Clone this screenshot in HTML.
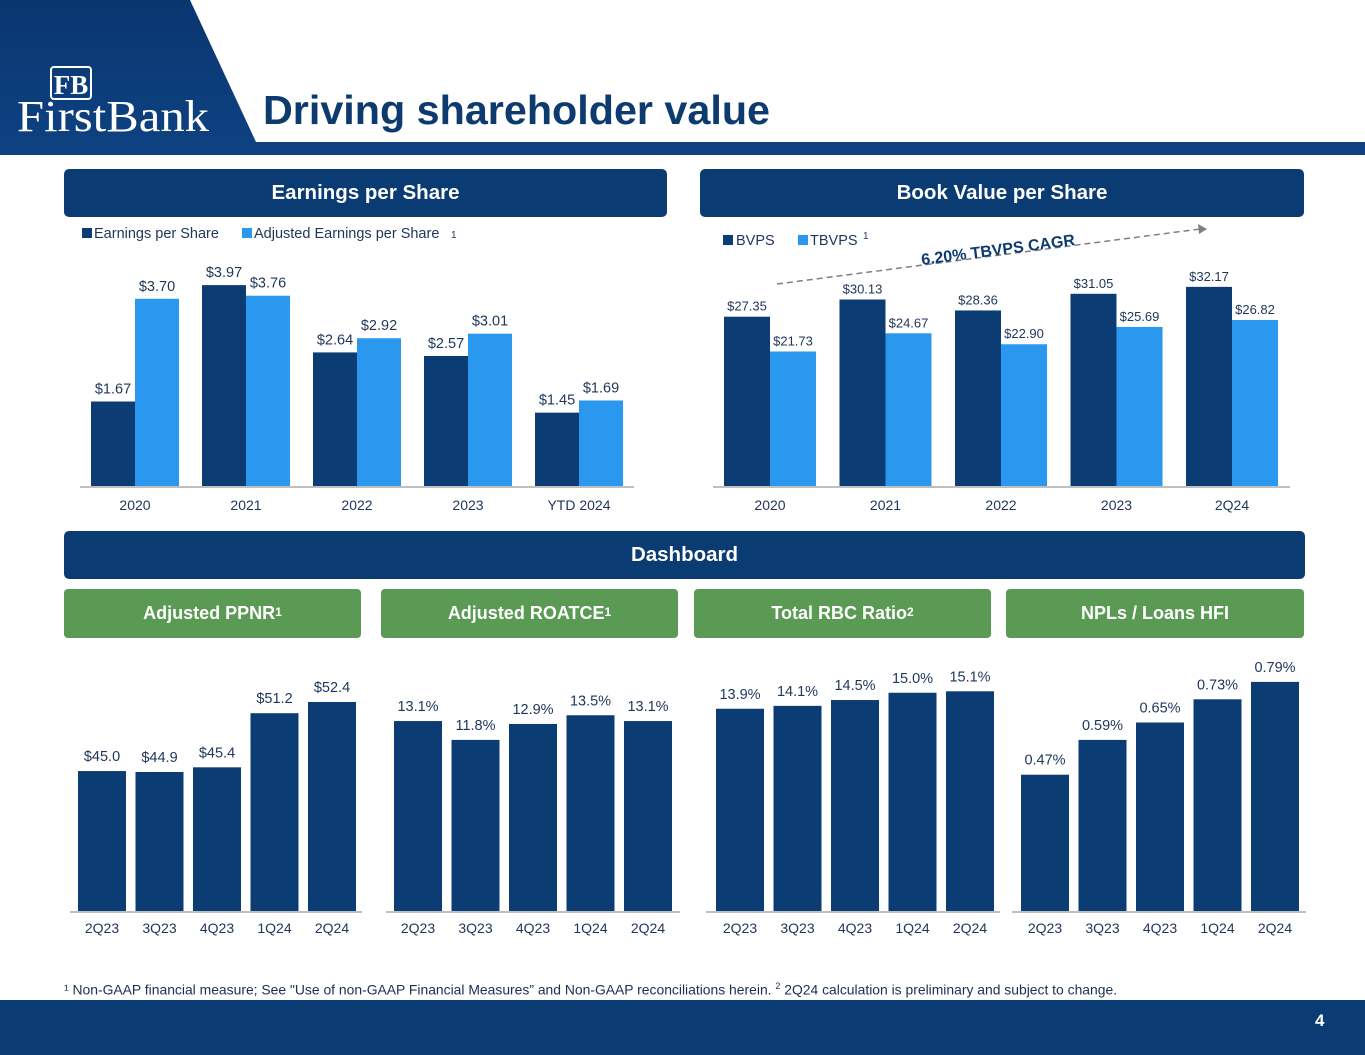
<!DOCTYPE html>
<html><head><meta charset="utf-8"><style>
body{margin:0;width:1365px;height:1055px;position:relative;background:#fff;font-family:"Liberation Sans",sans-serif;overflow:hidden}
.abs{position:absolute}
.hdr{position:absolute;background:#0b3b73;color:#fff;font-weight:bold;font-size:20.5px;display:flex;align-items:center;justify-content:center;border-radius:5px}
.grn{position:absolute;background:#5a9a55;color:#fff;font-weight:bold;font-size:18px;display:flex;align-items:center;justify-content:center;border-radius:4px}
.grn sup{font-size:12px;position:relative;top:-2px}
</style></head><body>
<svg class="abs" style="left:0;top:0" width="1365" height="156">
<defs><linearGradient id="g" x1="0" y1="0" x2="0" y2="1"><stop offset="0" stop-color="#0a3670"/><stop offset="1" stop-color="#0e4282"/></linearGradient></defs>
<polygon points="0,0 190,0 256,142 1365,142 1365,155 0,155" fill="url(#g)"/>
<rect x="51" y="67" width="40" height="32" rx="3" fill="none" stroke="#fff" stroke-width="2"/>
<text x="71" y="94" style="font-family:'Liberation Serif',serif" font-size="27" fill="#fff" text-anchor="middle" font-weight="bold">FB</text>
<text x="17" y="131" style="font-family:'Liberation Serif',serif" font-size="44" fill="#fff" textLength="192" lengthAdjust="spacingAndGlyphs">FirstBank</text>
<text x="263" y="124" style="font-family:'Liberation Sans',sans-serif" font-size="41" font-weight="bold" fill="#0d3b70" textLength="507" lengthAdjust="spacingAndGlyphs">Driving shareholder value</text>
</svg>
<div class="hdr" style="left:64px;top:169px;width:603px;height:48px">Earnings per Share</div>
<div class="hdr" style="left:700px;top:169px;width:604px;height:48px">Book Value per Share</div>
<div class="hdr" style="left:64px;top:531px;width:1241px;height:48px">Dashboard</div>
<div class="grn" style="left:64px;top:589px;width:297px;height:49px">Adjusted PPNR<sup>1</sup></div>
<div class="grn" style="left:381px;top:589px;width:297px;height:49px">Adjusted ROATCE<sup>1</sup></div>
<div class="grn" style="left:694px;top:589px;width:297px;height:49px">Total RBC Ratio<sup>2</sup></div>
<div class="grn" style="left:1006px;top:589px;width:298px;height:49px">NPLs / Loans HFI</div>
<svg id="ch" class="abs" style="left:0;top:0;font-family:'Liberation Sans',sans-serif" width="1365" height="1000"></svg>
<div class="abs" style="left:64px;top:981px;font-size:13.9px;color:#1a2f55;white-space:nowrap">¹ Non-GAAP financial measure; See "Use of non-GAAP Financial Measures” and Non-GAAP reconciliations herein. <sup style="font-size:9px">2</sup> 2Q24 calculation is preliminary and subject to change.</div>
<div class="abs" style="left:0;top:1000px;width:1365px;height:55px;background:#0b3b73"></div>
<div class="abs" style="left:1315px;top:1011px;color:#fff;font-weight:bold;font-size:17px">4</div>
<script>
const epsCats=["2020","2021","2022","2023","YTD 2024"];
const epsVals=[1.67,3.97,2.64,2.57,1.45];
const adjEpsVals=[3.70,3.76,2.92,3.01,1.69];
const bvCats=["2020","2021","2022","2023","2Q24"];
const bvpsVals=[27.35,30.13,28.36,31.05,32.17];
const tbvpsVals=[21.73,24.67,22.90,25.69,26.82];
const qCats=["2Q23","3Q23","4Q23","1Q24","2Q24"];
const ppnrVals=[45.0,44.9,45.4,51.2,52.4];
const roatceVals=[13.1,11.8,12.9,13.5,13.1];
const rbcVals=[13.9,14.1,14.5,15.0,15.1];
const nplVals=[0.47,0.59,0.65,0.73,0.79];
const NS="http://www.w3.org/2000/svg";
const svg=document.getElementById('ch');
const DARK="#0c3c74",LIGHT="#2a98ee",TXT="#1f3559";
function el(t,a,txt){const e=document.createElementNS(NS,t);for(const k in a)e.setAttribute(k,a[k]);if(txt!==undefined)e.textContent=txt;svg.appendChild(e);return e;}
function axisLine(x0,x1,y){const l=el('line',{x1:x0,x2:x1,y1:y,y2:y,stroke:'#bfbfbf','stroke-width':2});

}
function catLabel(x,y,t){const e=el('text',{x:x,y:y,'text-anchor':'middle','font-size':14,fill:TXT},t);

}
function bar(x,w,base,h,col,name){const r=el('rect',{x:x,y:base-h,width:w,height:h,fill:col});

}
function valLabel(x,y,t,fs){const e=el('text',{x:x,y:y,'text-anchor':'middle','font-size':fs,fill:TXT},t);

}
(function(){const base=486,scale=50.6,x0=91,step=111,w=44;
axisLine(80,634,base+1);
epsCats.forEach((c,i)=>{const gx=x0+i*step;
const h1=epsVals[i]*scale,h2=adjEpsVals[i]*scale;
bar(gx,w,base,h1,DARK,'eps-bar-'+c);bar(gx+w,w,base,h2,LIGHT,'adj-eps-bar-'+c);
valLabel(gx+w/2,base-h1-8,'$'+epsVals[i].toFixed(2),14.5);
valLabel(gx+w*1.5,base-h2-8,'$'+adjEpsVals[i].toFixed(2),14.5);
catLabel(gx+w,510,c);});
el('rect',{x:82,y:228,width:10,height:10,fill:DARK});
el('text',{x:94,y:238,'font-size':14.5,fill:TXT},'Earnings per Share');
el('rect',{x:242,y:228,width:10,height:10,fill:LIGHT});
el('text',{x:254,y:238,'font-size':14.5,fill:TXT},'Adjusted Earnings per Share');
el('text',{x:451,y:238,'font-size':10,fill:TXT},'1');})();
(function(){const base=486,scale=6.19,x0=724,step=115.5,w=46;
axisLine(713,1290,base+1);
bvCats.forEach((c,i)=>{const gx=x0+i*step;
const h1=bvpsVals[i]*scale,h2=tbvpsVals[i]*scale;
bar(gx,w,base,h1,DARK,'bvps-bar-'+c);bar(gx+w,w,base,h2,LIGHT,'tbvps-bar-'+c);
valLabel(gx+w/2,base-h1-6,'$'+bvpsVals[i].toFixed(2),13);
valLabel(gx+w*1.5,base-h2-6,'$'+tbvpsVals[i].toFixed(2),13);
catLabel(gx+w,510,c);});
el('rect',{x:723,y:235,width:10,height:10,fill:DARK});
el('text',{x:736,y:245,'font-size':14.5,fill:TXT},'BVPS');
el('rect',{x:798,y:235,width:10,height:10,fill:LIGHT});
el('text',{x:810,y:245,'font-size':14.5,fill:TXT},'TBVPS');
el('text',{x:863,y:239,'font-size':10,fill:TXT},'1');
el('line',{x1:777,y1:284,x2:1200,y2:229,stroke:'#808080','stroke-width':1.5,'stroke-dasharray':'6,4'});
el('polygon',{points:'1207,229 1198,224 1199,234',fill:'#808080'});
el('text',{x:922,y:265,'font-size':16,'font-weight':'bold',fill:'#0d3b70',transform:'rotate(-7.4 922 265)'},'6.20% TBVPS CAGR');})();
function small(vals,x0,ax0,ax1,min,scale,fmt,key){const base=911,step=57.5,w=48;
axisLine(ax0,ax1,base+1);
vals.forEach((v,i)=>{const x=x0+i*step,h=(v-min)*scale;
bar(x,w,base,h,DARK,key+'-bar-'+qCats[i]);
valLabel(x+w/2,base-h-10,fmt(v),14.5);
catLabel(x+w/2,933,qCats[i]);});}
small(ppnrVals,78,70,362,30,9.33,v=>'$'+v.toFixed(1),'ppnr');
small(roatceVals,394,386,680,0,14.5,v=>v.toFixed(1)+'%','roatce');
small(rbcVals,716,706,1000,0,14.55,v=>v.toFixed(1)+'%','rbc');
small(nplVals,1021,1012,1306,0,290,v=>v.toFixed(2)+'%','npl');
</script>
</body></html>
